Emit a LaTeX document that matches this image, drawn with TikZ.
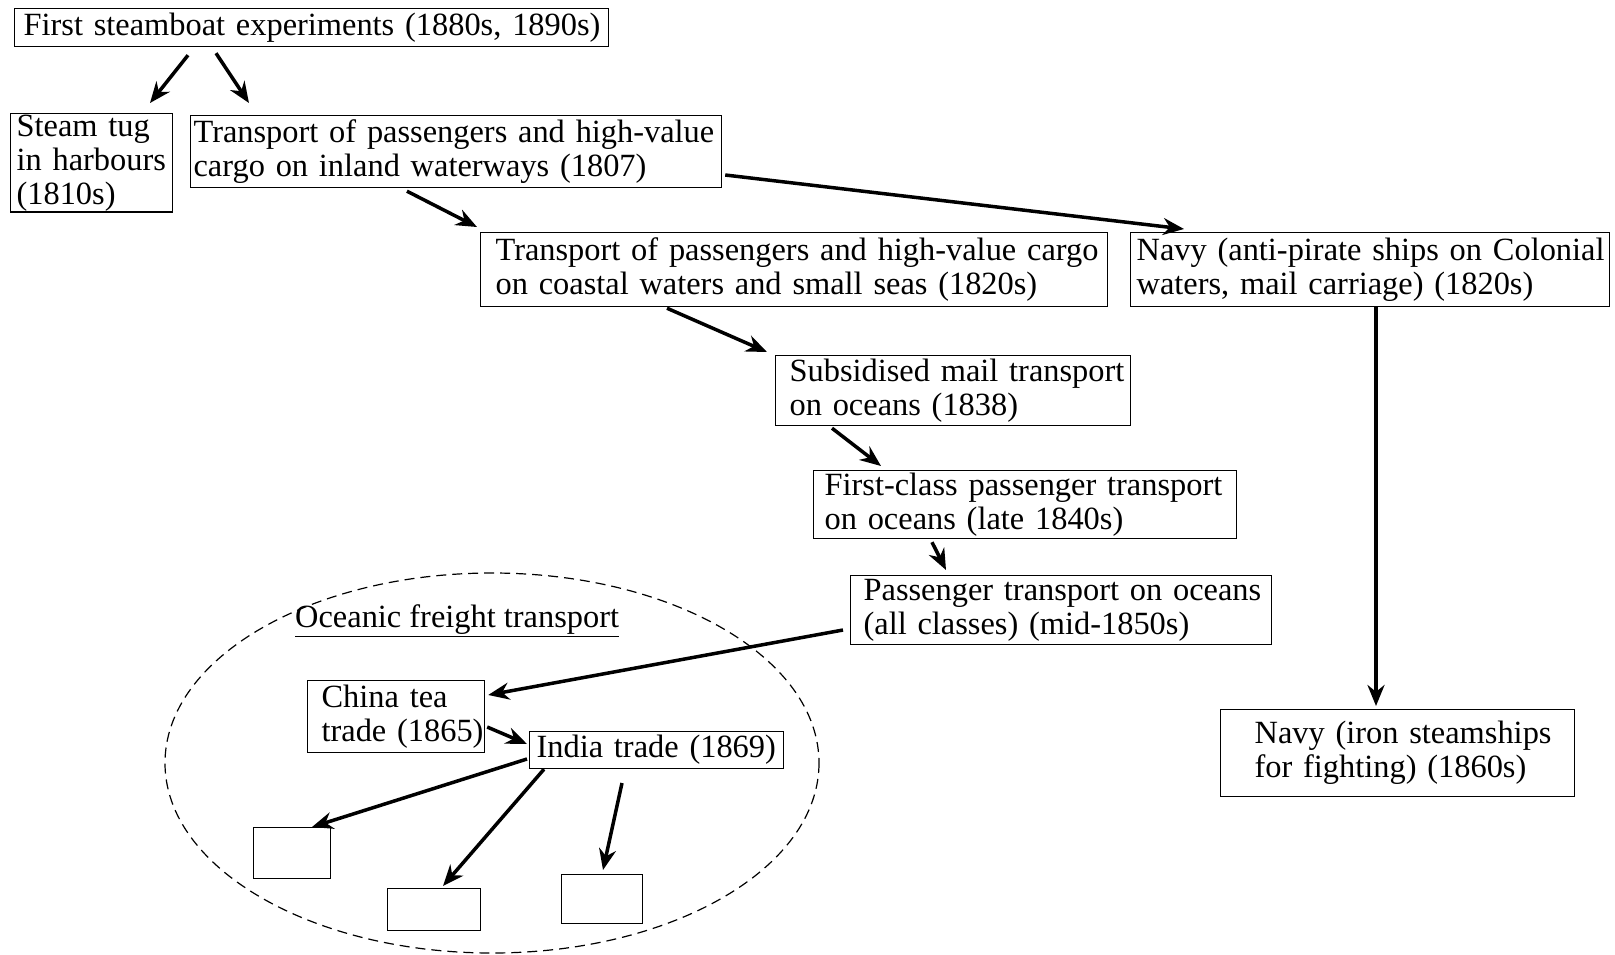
\documentclass[tikz,border=0pt]{standalone}
\usepackage{fontspec}
\setmainfont{Liberation Serif}
\usepackage{tikz}
\usetikzlibrary{arrows.meta, calc}

\begin{document}
\begin{tikzpicture}[x=1pt, y=-1pt,
    stage/.style={draw, line width=1.2pt, anchor=north west, align=left,
      inner xsep=0pt, inner ysep=1pt, font=\fontsize{32.4}{34}\selectfont},
    indent/.style={execute at begin node={\leftskip=#1}},
    blank/.style={draw, line width=1.2pt, anchor=north west, inner sep=0pt},
    link/.style={line width=3.5pt, -{Stealth[length=21pt, width=17pt]}}]
  \useasboundingbox (0,0) rectangle (1615,954);

  % Boxes of the main chain
  \node[stage, minimum width=594pt, minimum height=38pt, text width=594pt, indent=9pt]
    (first) at (14,8) {First steamboat experiments (1880s, 1890s)};
  \node[stage, minimum width=162pt, minimum height=98pt, text width=162pt, indent=6pt]
    (tug) at (10,113) {Steam tug\\in harbours\\(1810s)};
  \node[stage, minimum width=531pt, minimum height=72pt, text width=531pt, indent=3pt]
    (inland) at (190,115) {Transport of passengers and high-value\\cargo on inland waterways (1807)};
  \node[stage, minimum width=627pt, minimum height=74pt, text width=627pt, indent=15pt]
    (coastal) at (480,232) {Transport of passengers and high-value cargo\\on coastal waters and small seas (1820s)};
  \node[stage, minimum width=479pt, minimum height=74pt, text width=479pt, indent=6pt]
    (piracy) at (1130,232) {Navy (anti-pirate ships on Colonial\\waters, mail carriage) (1820s)};
  \node[stage, minimum width=355pt, minimum height=70pt, text width=355pt, indent=14pt]
    (mail) at (775,355) {Subsidised mail transport\\on oceans (1838)};
  \node[stage, minimum width=423pt, minimum height=68pt, text width=423pt, indent=11pt]
    (firstclass) at (813,470) {First-class passenger transport\\on oceans (late 1840s)};
  \node[stage, minimum width=421pt, minimum height=69pt, text width=421pt, indent=13pt]
    (allclass) at (850,575) {Passenger transport on oceans\\(all classes) (mid-1850s)};
  \node[stage, minimum width=354pt, minimum height=87pt, text width=354pt, indent=34pt]
    (iron) at (1220,709) {Navy (iron steamships\\for fighting) (1860s)};

  % Oceanic freight group
  \draw[line width=1.2pt, dash pattern=on 10pt off 6pt] (492,763) ellipse (327 and 190);
  \node[anchor=west, inner sep=0pt, font=\fontsize{32.4}{34}\selectfont]
    (freight) at (295,621) {\underline{Oceanic freight transport}};
  \node[stage, minimum width=177pt, minimum height=72pt, text width=177pt, indent=14pt]
    (china) at (307,680) {China tea\\trade (1865)};
  \node[stage, minimum width=254pt, minimum height=37pt, text width=254pt, indent=7pt]
    (india) at (529,731) {India trade (1869)};
  \node[blank, minimum width=77pt, minimum height=51pt] (empA) at (253,827) {};
  \node[blank, minimum width=93pt, minimum height=42pt] (empB) at (387,888) {};
  \node[blank, minimum width=81pt, minimum height=49pt] (empC) at (561,874) {};
  \coordinate (loose) at (622,783);

  % Connectors
  \draw[link] ($(first.south west)+(174,8)$) -- ($(tug.north west)+(140,-10)$);
  \draw[link] ($(first.south west)+(202,6)$) -- ($(inland.north west)+(59,-12)$);
  \draw[link] ($(inland.south west)+(217,3)$) -- ($(coastal.north west)+(-3,-5)$);
  \draw[link] ($(inland.north east)+(3,60)$) -- ($(piracy.north west)+(54,-3)$);
  \draw[link] ($(coastal.south west)+(187,1)$) -- ($(mail.north west)+(-8,-3)$);
  \draw[link] ($(mail.south west)+(57,2)$) -- ($(firstclass.north west)+(68,-4)$);
  \draw[link] ($(firstclass.south west)+(119,3)$) -- ($(allclass.north west)+(96,-5)$);
  \draw[link] ($(allclass.north west)+(-7,55)$) -- ($(china.north east)+(3,15)$);
  \draw[link] ($(china.north east)+(2,47)$) -- ($(india.north west)+(-2,13)$);
  \draw[link] ($(india.north west)+(-2,28)$) -- ($(empA.north west)+(59,0)$);
  \draw[link] ($(india.south west)+(15,0)$) -- ($(empB.north west)+(56,-2)$);
  \draw[link] (loose) -- ($(empC.north west)+(42,-4)$);
  \draw[link] ($(piracy.south west)+(246,0)$) -- ($(iron.north west)+(156,-3)$);
\end{tikzpicture}
\end{document}
